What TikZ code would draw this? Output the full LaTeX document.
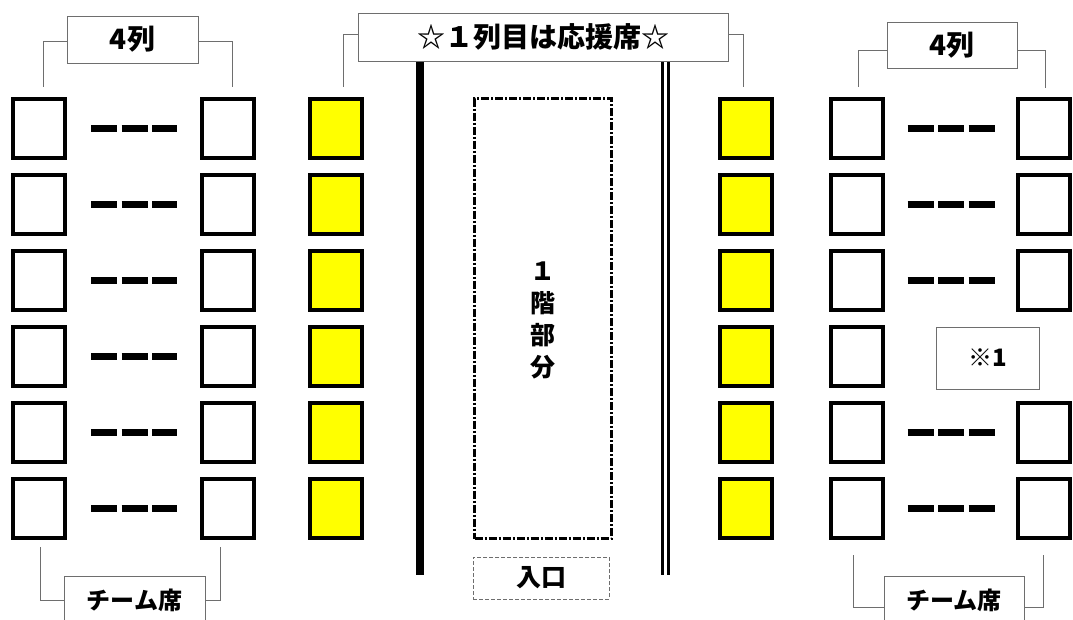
\documentclass[tikz,border=0pt]{standalone}
\usepackage{fontspec}
\setmainfont{Noto Sans CJK JP}
\definecolor{seatyellow}{RGB}{255,255,0}
\definecolor{linegray}{RGB}{110,110,110}
\begin{document}
\begin{tikzpicture}[x=1pt,y=-1pt,
  seat/.style={draw=black,line width=4pt,minimum width=52pt,minimum height=59pt,inner sep=0pt,fill=white},
  yseat/.style={seat,fill=seatyellow},
  label/.style={draw=linegray,line width=0.9pt,fill=white,inner sep=0pt,font=\bfseries},
  brace/.style={draw=linegray,line width=0.9pt},
  gap/.style={line width=7pt,dash pattern=on 26pt off 4.5pt},
  wall/.style={line width=8pt},
  dwall/.style={line width=3pt}]
\useasboundingbox (0,0) rectangle (1073,619);
\fill[white] (0,0) rectangle (1073,619);
% rows
\foreach \r/\y in {1/128.5,2/204.5,3/280.5,4/356.5,5/432.5,6/508.5}{
  \node[seat] (La\r) at (39,\y) {};
  \node[seat] (Lb\r) at (228,\y) {};
  \node[yseat] (Ly\r) at (336,\y) {};
  \node[yseat] (Ry\r) at (746,\y) {};
  \node[seat] (Ra\r) at (856.5,\y) {};
}
\foreach \r/\y in {1/128.5,2/204.5,3/280.5,5/432.5,6/508.5}{
  \node[seat] (Rb\r) at (1044,\y) {};
}
\foreach \r in {1,...,6}{
  \draw[gap,shorten <=24pt,shorten >=23pt] (La\r.east) -- (Lb\r.west);
}
\foreach \r in {1,2,3,5,6}{
  \draw[gap,shorten <=23pt,shorten >=21pt] (Ra\r.east) -- (Rb\r.west);
}
\node[label,minimum width=103pt,minimum height=62pt] (note) at (987.5,358) {\fontsize{24}{28}\selectfont ※1};
% headers
\node[label,minimum width=131pt,minimum height=47pt] (h1) at (132.5,39.5) {\fontsize{28}{32}\selectfont 4列};
\node[label,minimum width=370pt,minimum height=48pt] (h2) at (543,37) {\fontsize{28}{32}\selectfont ☆１列目は応援席☆};
\node[label,minimum width=130pt,minimum height=46pt] (h3) at (952,45) {\fontsize{28}{32}\selectfont 4列};
\node[label,minimum width=141pt,minimum height=48pt] (t1) at (134.5,600) {\fontsize{24}{28}\selectfont チーム席};
\node[label,minimum width=140pt,minimum height=48pt] (t2) at (954,600) {\fontsize{24}{28}\selectfont チーム席};
% bracket end points
\coordinate (b1) at (43,87);
\coordinate (b2) at (232,87);
\coordinate (b3) at (343,87);
\coordinate (b4) at (743,87);
\coordinate (b5) at (858,87);
\coordinate (b6) at (1045,88);
\coordinate (c1) at (40,547);
\coordinate (c2) at (220,547);
\coordinate (c3) at (853,555);
\coordinate (c4) at (1043,555);
\draw[brace] ([yshift=-1.5pt]h1.west) -| (b1);
\draw[brace] ([yshift=-1.5pt]h1.east) -| (b2);
\draw[brace] ([yshift=3pt]h2.west) -| (b3);
\draw[brace] ([yshift=3pt]h2.east) -| (b4);
\draw[brace] ([yshift=-5pt]h3.west) -| (b5);
\draw[brace] ([yshift=-5pt]h3.east) -| (b6);
\draw[brace] (c1) |- (t1.west);
\draw[brace] (c2) |- (t1.east);
\draw[brace] (c3) |- ([yshift=-7pt]t2.west);
\draw[brace] (c4) |- ([yshift=-7pt]t2.east);
% walls
\coordinate (w1t) at (420,62);
\coordinate (w1b) at (420,575);
\draw[wall] (w1t) -- (w1b);
\coordinate (w2t) at (662,62);
\coordinate (w2b) at (662,575);
\coordinate (w3t) at (668.5,62);
\coordinate (w3b) at (668.5,575);
\draw[dwall] (w2t) -- (w2b);
\draw[dwall] (w3t) -- (w3b);
% first floor area
\node[draw=black,line width=3pt,dash pattern=on 8pt off 2pt on 2pt off 2pt,minimum width=137pt,minimum height=440pt,inner sep=0pt] (floor) at (543,318.5) {};
\node[align=center,font=\bfseries\fontsize{25}{32}\selectfont] (ftext) at (543,320) {１\\階\\部\\分};
\node[draw=linegray,line width=0.9pt,dash pattern=on 4pt off 2pt,minimum width=136pt,minimum height=42pt,inner sep=0pt,font=\bfseries\fontsize{25}{28}\selectfont] (entry) at (541,578) {入口};
\end{tikzpicture}
\end{document}
